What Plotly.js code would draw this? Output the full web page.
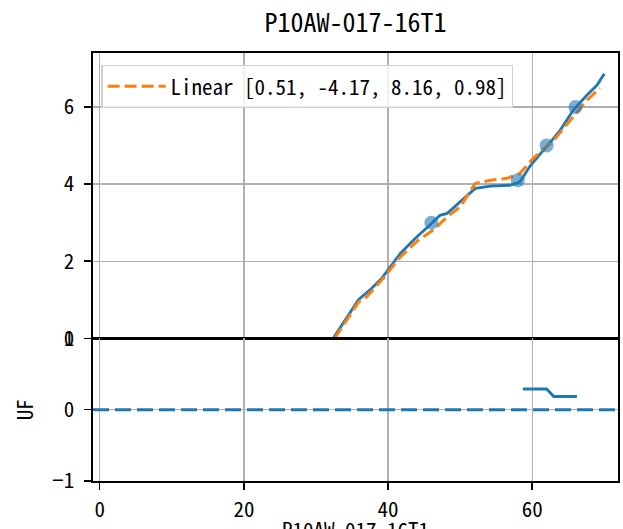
<!DOCTYPE html>
<html>
<head>
<meta charset="utf-8">
<script src="https://cdn.plot.ly/plotly-3.0.1.min.js"></script>
<style>html,body{margin:0;padding:0;background:#fff}#chart{width:623px;height:529px}</style>
</head>
<body>
<div id="chart"></div>
<script>
// ---- data ----
const chartTitle = "P10AW-017-16T1";
const xLabel = "P10AW-017-16T1";
const yLabelBottom = "UF";
const fitLabel = "Linear [0.51, -4.17, 8.16, 0.98]";

const curveX = [32.4, 35.9, 37.7, 39.1, 41.7, 43.75, 45.8, 47.2, 48.2, 50.0, 52.1, 54.2, 56.9, 58.3, 59.7, 61.1, 62.0, 63.9, 65.7, 67.6, 69.0, 70.0];
const curveY = [0.0, 1.0, 1.29, 1.55, 2.2, 2.59, 2.94, 3.19, 3.24, 3.54, 3.89, 3.95, 3.97, 4.06, 4.47, 4.78, 4.97, 5.4, 5.92, 6.31, 6.57, 6.86];

const fitX = [32.6, 35.9, 37.0, 39.3, 41.7, 44.2, 46.3, 48.2, 50.0, 52.1, 54.2, 56.5, 58.3, 60.2, 63.0, 65.7, 67.6, 69.4];
const fitY = [0.0, 0.94, 1.07, 1.55, 2.11, 2.55, 2.81, 3.15, 3.41, 4.02, 4.10, 4.15, 4.28, 4.68, 5.14, 5.75, 6.18, 6.49];

const pointX = [46, 58, 62, 66];
const pointY = [3.0, 4.1, 5.0, 6.0];

const ufX = [58.7, 62.0, 63.0, 66.2];
const ufY = [0.29, 0.29, 0.185, 0.185];
const ufBaseline = 0;

const xTicks = [0, 20, 40, 60];
const yTicksTop = [0, 2, 4, 6];
const yTicksBottom = [-1, 0, 1];

// ---- styling ----
const FONT = "'Noto Sans Mono CJK JP', 'Noto Sans CJK JP', 'DejaVu Sans Mono', sans-serif";
const BLUE = "#1f77b4", ORANGE = "#ff7f0e", GRID = "#b0b0b0";
const FS = 21;

const axisCommon = {
  showline: true, linecolor: "#000", linewidth: 1.6, mirror: true,
  ticks: "outside", ticklen: 7, tickwidth: 1.5, tickcolor: "#000",
  showgrid: true, gridcolor: GRID, gridwidth: 1.4,
  zeroline: false,
  tickfont: {family: FONT, size: FS, color: "#000"}
};

const traces = [
  {x: curveX, y: curveY, type: "scatter", mode: "lines", xaxis: "x", yaxis: "y",
   line: {color: BLUE, width: 2.8}, showlegend: false, hoverinfo: "skip"},
  {x: fitX, y: fitY, type: "scatter", mode: "lines", xaxis: "x", yaxis: "y",
   name: fitLabel, line: {color: ORANGE, width: 3, dash: "12px,5px"}},
  {x: pointX, y: pointY, type: "scatter", mode: "markers", xaxis: "x", yaxis: "y",
   marker: {color: BLUE, opacity: 0.6, size: 14}, showlegend: false},
  {x: ufX, y: ufY, type: "scatter", mode: "lines", xaxis: "x2", yaxis: "y2",
   line: {color: BLUE, width: 3}, showlegend: false}
];

const layout = {
  width: 623, height: 529,
  paper_bgcolor: "#fff", plot_bgcolor: "#fff",
  margin: {l: 93.3, r: 5.3, t: 53, b: 48.3},
  font: {family: FONT, color: "#000"},
  title: {text: chartTitle, font: {family: FONT, size: 26, color: "#000"},
          xref: "paper", x: 0.5, xanchor: "center",
          yref: "container", y: 1 - 23/529, yanchor: "middle"},
  xaxis: Object.assign({}, axisCommon, {range: [-0.93, 71.9], domain: [0, 1], anchor: "y",
          tickvals: xTicks, showticklabels: false, ticks: ""}),
  yaxis: Object.assign({}, axisCommon, {range: [0, 7.4], domain: [1/3, 1], anchor: "x",
          tickvals: yTicksTop, ticklabelstandoff: 6}),
  xaxis2: Object.assign({}, axisCommon, {range: [-0.93, 71.9], domain: [0, 1], anchor: "y2",
          tickvals: xTicks, matches: "x", ticklabelstandoff: 2}),
  yaxis2: Object.assign({}, axisCommon, {range: [-1, 1], domain: [0, 1/3], anchor: "x2",
          tickvals: yTicksBottom, tickformat: "d", ticklabelstandoff: 6,
          title: {text: yLabelBottom, font: {family: FONT, size: FS}, standoff: 12}}),
  showlegend: true,
  legend: {x: 0.016, y: 0.972, xanchor: "left", yanchor: "top", itemwidth: 58,
           bgcolor: "rgba(255,255,255,0.8)", bordercolor: "#d0d0d0", borderwidth: 1.2,
           font: {family: FONT, size: FS, color: "#000"}},
  annotations: [
    {text: xLabel, xref: "paper", x: 0.5, xanchor: "center",
     yref: "paper", y: 0, yanchor: "top", yshift: -31, showarrow: false,
     font: {family: FONT, size: FS, color: "#000"}}
  ],
  shapes: [
    {type: "line", xref: "x2 domain", x0: 0, x1: 1, yref: "y2", y0: ufBaseline, y1: ufBaseline,
     line: {color: BLUE, width: 3, dash: "16px,6px"}}
  ]
};

Plotly.newPlot("chart", traces, layout, {displayModeBar: false, staticPlot: true});
</script>
</body>
</html>
